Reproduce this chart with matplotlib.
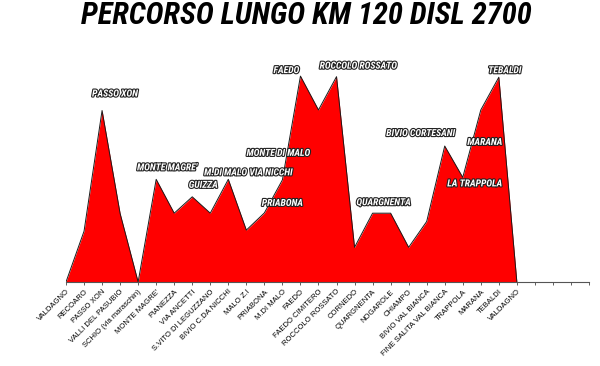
import matplotlib
matplotlib.use("Agg")
import matplotlib.pyplot as plt
import matplotlib.patheffects as pe
import numpy as np

# ---- data ----
categories = ["VALDAGNO", "RECOARO", "PASSO XON", "VALLI DEL PASUBIO", "SCHIO (via maraschin)",
              "MONTE MAGRE'", "PIANEZZA", "VIA ANCETTI", "S.VITO DI LEGUZZANO", "BIVIO C.DA NICCHI",
              "MALO Z.I", "PRIABONA", "M.DI MALO", "FAEDO", "FAEDO CIMITERO", "ROCCOLO ROSSATO",
              "CORNEDO", "QUARGNENTA", "NOGAROLE", "CHIAMPO", "BIVIO VAL BIANCA",
              "FINE SALITA VAL BIANCA", "TRAPPOLA", "MARANA", "TEBALDI", "VALDAGNO"]
blank_categories = ["", "", "", ""]
values = [0, 183, 618, 247, 0,
          370, 248, 307, 248, 370,
          187, 249, 368, 742, 620, 740,
          125, 248, 248, 125, 218,
          490, 377, 620, 738, 0]
label_texts = ["PASSO XON", "MONTE MAGRE'", "GUIZZA", "M.DI MALO VIA NICCHI", "MONTE DI MALO",
               "PRIABONA", "FAEDO", "ROCCOLO ROSSATO", "QUARGNENTA", "BIVIO CORTESANI",
               "LA TRAPPOLA", "MARANA", "TEBALDI"]
label_points = [2, 5, 7, 9, 12, 11, 13, 15, 17, 21, 22, 23, 24]
title = "PERCORSO LUNGO KM 120 DISL 2700"

# ---- layout ----
label_offsets = [(13, 17), (11, 12), (11, 12), (20, 7), (-4, 27), (18, 10), (-14, 6),
                 (22, 11), (11, 11), (-24, 13), (12, -6), (4, -32), (6, 7)]

narrow = ["Roboto Condensed", "Liberation Sans", "DejaVu Sans"]

fig = plt.figure(figsize=(6, 3.66), dpi=100)
ax = fig.add_axes([66 / 600, 1 - 282 / 366, (589 - 66) / 600, (282 - 60) / 366])

all_cats = categories + blank_categories
x = np.arange(len(values))
ax.fill_between(x, values, 0, color="#FF0000", linewidth=0)
ax.plot(x, values, color="#1a1a1a", linewidth=0.7)

ax.set_xlim(0, len(all_cats) - 1)
ax.set_ylim(0, 800)
ax.set_xticks(np.arange(len(all_cats)))
ax.set_xticklabels(all_cats, rotation=45, ha="right", rotation_mode="anchor",
                   fontsize=5.5, family=["Liberation Sans", "DejaVu Sans"], color="black")
ax.tick_params(axis="x", direction="out", length=2.5, width=0.6, color="#444444", pad=2)
ax.set_yticks([])
for s in ["left", "top", "right"]:
    ax.spines[s].set_visible(False)
ax.spines["bottom"].set_color("#555555")
ax.spines["bottom"].set_linewidth(0.8)

for txt, idx, off in zip(label_texts, label_points, label_offsets):
    ax.annotate(txt, xy=(x[idx], values[idx]), xytext=off, textcoords="offset pixels",
                ha="center", va="center", fontsize=7, fontweight="bold", fontstyle="italic",
                family=narrow, color="white",
                path_effects=[pe.withStroke(linewidth=1.6, foreground="#222222")])

fig.text(306.5 / 600, 1 - 15 / 366, title, ha="center", va="center", fontsize=22,
         fontweight="bold", fontstyle="italic", family=narrow, color="black")

fig.savefig("out.png", dpi=100, facecolor="white")
